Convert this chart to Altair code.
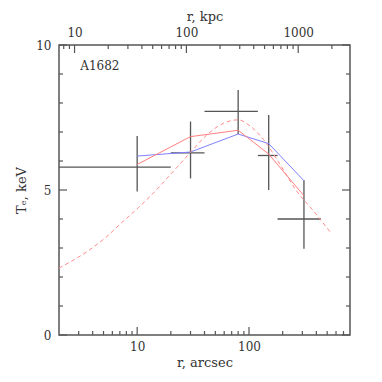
import altair as alt
import pandas as pd

# ---- data ----
bin_lo = [1, 20, 40, 120, 180]          # arcsec (first bin starts at 0, clipped)
bin_c = [10, 30, 80, 150, 310]
bin_hi = [20, 40, 120, 180, 440]
t_obs = [5.79, 6.28, 7.71, 6.19, 4.00]
t_lo = [4.95, 5.40, 6.93, 5.00, 2.97]
t_hi = [6.86, 7.36, 8.45, 7.59, 5.34]
t_blue = [6.17, 6.31, 6.93, 6.60, 5.32]
t_red = [5.88, 6.84, 7.06, 6.24, 4.80]
model_r = [2, 3.67, 5.18, 7.3, 10.3, 14, 20, 30, 42, 59, 80, 102, 134, 189, 266, 375, 540]
model_t = [2.31, 2.91, 3.35, 3.88, 4.40, 4.90, 5.55, 6.30, 6.90, 7.30, 7.42, 7.21, 6.75, 5.89, 4.97, 4.29, 3.52]
label_text = ["A1682"]
label_x = [3.1]
label_y = [9.28]

x_major = [10, 100]
x_minor = [3, 4, 5, 6, 7, 8, 9, 20, 30, 40, 50, 60, 70, 80, 90, 200, 300, 400, 500, 600, 700]
y_major = [0, 5, 10]
y_minor = [1, 2, 3, 4, 6, 7, 8, 9]
kpc_major = [10, 100, 1000]
kpc_minor = [8, 9, 20, 30, 40, 50, 60, 70, 80, 90, 200, 300, 400, 500, 600, 700, 800, 900, 2000]
KPC_PER_ARCSEC = 3.63
X_DOMAIN = [2, 800]

W, H = 291, 290
MAJ, MIN = 8, 4
FONT = "DejaVu Serif"
AX_COL = "#555555"
TICK_COL = "#555555"
TXT_COL = "#333333"

xs = alt.Scale(type="log", domain=X_DOMAIN, nice=False)
ks = alt.Scale(type="log", domain=[X_DOMAIN[0] * KPC_PER_ARCSEC, X_DOMAIN[1] * KPC_PER_ARCSEC], nice=False)
ys = alt.Scale(domain=[0, 10], nice=False, zero=False)


def label_axis(orient, values, title, label_pad, title_pad):
    return alt.Axis(orient=orient, values=values, ticks=False, domain=False, grid=False,
                    labelFont=FONT, labelFontSize=12, labelColor=TXT_COL,
                    labelPadding=label_pad, title=title, titleFont=FONT,
                    titleFontSize=13, titleColor=TXT_COL, titleFontWeight="normal",
                    titlePadding=title_pad, format="d")


pts = pd.DataFrame(dict(lo=bin_lo, c=bin_c, hi=bin_hi, t=t_obs, tlo=t_lo, thi=t_hi,
                        blue=t_blue, red=t_red))
model = pd.DataFrame(dict(r=model_r, t=model_t))
lab = pd.DataFrame(dict(text=label_text, x=label_x, y=label_y))

hbars = alt.Chart(pts).mark_rule(color=AX_COL, strokeWidth=1.3, clip=True).encode(
    x=alt.X("lo:Q", scale=xs, axis=label_axis("bottom", x_major, "r, arcsec", 6, 4)),
    x2="hi:Q",
    y=alt.Y("t:Q", scale=ys, axis=label_axis("left", y_major, "Tₑ, keV", 8, 7)),
)
vbars = alt.Chart(pts).mark_rule(color=AX_COL, strokeWidth=1.3, clip=True).encode(
    x=alt.X("c:Q", scale=xs, axis=None),
    y=alt.Y("tlo:Q", scale=ys, axis=None),
    y2="thi:Q",
)
blue = alt.Chart(pts).mark_line(color="#7f7fff", strokeWidth=1, clip=True).encode(
    x=alt.X("c:Q", scale=xs, axis=None),
    y=alt.Y("blue:Q", scale=ys, axis=None),
)
red = alt.Chart(pts).mark_line(color="#ff7f7f", strokeWidth=1, clip=True).encode(
    x=alt.X("c:Q", scale=xs, axis=None),
    y=alt.Y("red:Q", scale=ys, axis=None),
)
dashed = alt.Chart(model).mark_line(color="#ff8a8a", strokeWidth=1, strokeDash=[4, 3],
                                    interpolate="monotone", clip=True).encode(
    x=alt.X("r:Q", scale=xs, axis=None),
    y=alt.Y("t:Q", scale=ys, axis=None),
)
text = alt.Chart(lab).mark_text(font=FONT, fontSize=12, color=TXT_COL, align="left",
                                baseline="middle").encode(
    x=alt.X("x:Q", scale=xs, axis=None),
    y=alt.Y("y:Q", scale=ys, axis=None),
    text="text:N",
)
top_labels = alt.Chart(pd.DataFrame(dict(k=kpc_major))).mark_point(opacity=0).encode(
    x=alt.X("k:Q", scale=ks, axis=label_axis("top", kpc_major, "r, kpc", 6, 3)),
)


# inward-pointing ticks on all four sides of the frame
def xticks(values, scale, length, side):
    y0, y1 = (H, H - length) if side == "bottom" else (0, length)
    return alt.Chart(pd.DataFrame(dict(v=values))).mark_rule(
        color=TICK_COL, strokeWidth=1.2).encode(
        x=alt.X("v:Q", scale=scale, axis=None), y=alt.value(y0), y2=alt.value(y1))


def yticks(values, length, side):
    x0, x1 = (0, length) if side == "left" else (W, W - length)
    return alt.Chart(pd.DataFrame(dict(v=values))).mark_rule(
        color=TICK_COL, strokeWidth=1.2).encode(
        y=alt.Y("v:Q", scale=ys, axis=None), x=alt.value(x0), x2=alt.value(x1))


ticks = [
    xticks(x_major, xs, MAJ, "bottom"), xticks(x_minor, xs, MIN, "bottom"),
    xticks(kpc_major, ks, MAJ, "top"), xticks(kpc_minor, ks, MIN, "top"),
    yticks(y_major, MAJ, "left"), yticks(y_minor, MIN, "left"),
    yticks(y_major, MAJ, "right"), yticks(y_minor, MIN, "right"),
]

chart = alt.layer(hbars, vbars, blue, red, dashed, text, top_labels, *ticks).resolve_scale(
    x="independent", y="shared"
).resolve_axis(x="independent", y="independent").properties(
    width=W, height=H, padding={"left": 7, "top": 2, "right": 5, "bottom": 5}
).configure_view(stroke=AX_COL, strokeWidth=1.5)

chart.save("out.html", embed_options={"renderer": "svg", "actions": False})
